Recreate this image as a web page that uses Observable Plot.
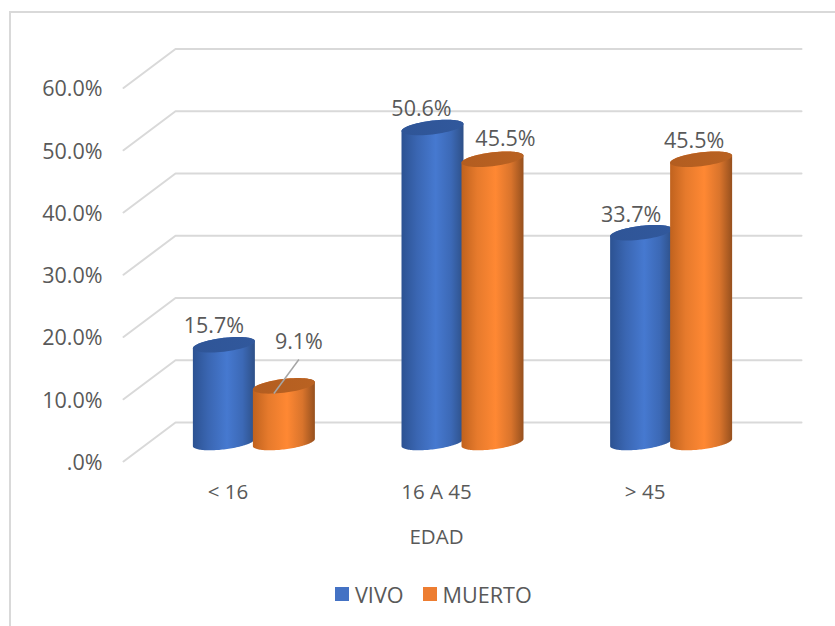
<!DOCTYPE html>
<html lang="es">
<head>
<meta charset="utf-8">
<title>EDAD</title>
<script src="https://cdn.jsdelivr.net/npm/d3@7"></script>
<script src="https://cdn.jsdelivr.net/npm/@observablehq/plot@0.6"></script>
<style>
  html, body { margin: 0; background: #fff; }
  body { width: 835px; height: 626px; position: relative; overflow: hidden; font-family: "Open Sans", sans-serif; }
  /* Chart-area border: only the top and left edges fall inside the page */
  #edge { position: absolute; left: 9px; top: 11px; right: 0; bottom: 0; border-left: 2px solid #d9d9d9; border-top: 2px solid #d9d9d9; }
  #chart { position: absolute; left: 0; top: 0; }
  #legend { position: absolute; left: 335px; top: 575px; height: 38px; display: flex; align-items: center; font-size: 21.6px; color: #595959; }
  #legend i { display: inline-block; width: 14px; height: 14px; margin-right: 6px; }
  #legend span { display: inline-flex; align-items: center; margin-right: 19px; }
</style>
</head>
<body>
<div id="edge"></div>
<div id="chart"></div>
<div id="legend"></div>
<script>
// Share of cases by age group and outcome
const ages = ["< 16", "16 A 45", "> 45"];
const vivo = [15.7, 50.6, 33.7];
const muerto = [9.1, 45.5, 45.5];
const gridValues = [0, 10, 20, 30, 40, 50, 60];

// Pixel size of one x unit (age group) and one y unit (percentage point)
const width = 835, height = 575;
const marginLeft = 123, marginRight = 34, marginTop = 87.5, marginBottom = 114;
const xDomain = [-0.625, 2.625];
const ppx = (width - marginLeft - marginRight) / (xDomain[1] - xDomain[0]);
const ppy = (height - marginTop - marginBottom) / 60;

// Oblique depth of the 3D box
const backX = xDomain[0] + 52 / ppx;
const wallRise = 39 / ppy;
const floorLift = -19;            // cylinders stand this far (px) above the front edge

// Cylinder proportions
const halfGap = 30 / ppx;
const rx = 31 / ppx, ry = 6.9 / ppy, tilt = 3.6 / ppy;
const steps = d3.range(0, 61);

// Point on a slightly tilted ellipse, used for caps and the rounded foot
const rim = (cx, cy, t) => ({
  x: cx + rx * Math.cos(t),
  y: cy + ry * Math.sin(t) + tilt * Math.cos(t)
});

const bars = [
  ...vivo.map((v, i) => ({ series: "VIVO", group: i, value: v, cx: i - halfGap })),
  ...muerto.map((v, i) => ({ series: "MUERTO", group: i, value: v, cx: i + halfGap }))
];

// Side surface: top rim right to left along the back, then foot rim left to right along the front
const bodyPoints = (bar) => [
  ...steps.map((k) => ({ ...rim(bar.cx, bar.value, Math.PI * k / 60), bar })),
  ...steps.map((k) => ({ ...rim(bar.cx, 0, Math.PI + Math.PI * k / 60), bar }))
];
const capPoints = (bar) => steps.map((k) => ({ ...rim(bar.cx, bar.value, 2 * Math.PI * k / 60), bar }));

// Bars in a group overlap, so each is drawn in order with its own surfaces
const cylinder = (bar) => {
  const id = bar.series.toLowerCase();
  const shared = { x: "x", y: "y", dy: floorLift, stroke: "none", curve: "linear-closed" };
  return [
    Plot.line(bodyPoints(bar), { ...shared, fill: `url(#${id}-side)` }),
    Plot.line(capPoints(bar), { ...shared, fill: `url(#${id}-cap)` })
  ];
};

// Horizontal shading of the cylinders
const stops = (stopsList) => stopsList.map(([o, c]) => `<stop offset="${o}" stop-color="${c}"/>`).join("");
const gradients = () => {
  const defs = document.createElementNS("http://www.w3.org/2000/svg", "defs");
  defs.innerHTML = `
    <linearGradient id="vivo-side">${stops([[0, "#2c5292"], [0.25, "#3a66b2"], [0.55, "#4679d0"], [0.8, "#3c69b6"], [1, "#2e5088"]])}</linearGradient>
    <linearGradient id="muerto-side">${stops([[0, "#c0621e"], [0.25, "#e67a2c"], [0.55, "#ff8833"], [0.8, "#d9742c"], [1, "#96501e"]])}</linearGradient>
    <linearGradient id="vivo-cap">${stops([[0, "#2f5597"], [1, "#31589c"]])}</linearGradient>
    <linearGradient id="muerto-cap">${stops([[0, "#b35d20"], [1, "#b96222"]])}</linearGradient>`;
  return defs;
};

// Where each value label sits relative to the top of its cylinder (px)
const labelPlacement = [
  { series: "VIVO", group: 0, dx: -10, dy: -38 },
  { series: "MUERTO", group: 0, dx: 15, dy: -62.5 },
  { series: "VIVO", group: 1, dx: -11, dy: -37 },
  { series: "MUERTO", group: 1, dx: 13, dy: -39 },
  { series: "VIVO", group: 2, dx: -10, dy: -37 },
  { series: "MUERTO", group: 2, dx: -7, dy: -37 }
];
const valueLabels = labelPlacement.map((p) => {
  const bar = bars.find((b) => b.series === p.series && b.group === p.group);
  return Plot.text([bar], {
    x: "cx", y: "value", text: (d) => d.value.toFixed(1) + "%",
    dx: p.dx, dy: p.dy, fontSize: 21.5, fill: "#595959"
  });
});

// Leader line from the short orange cylinder up to its label
const shortBar = bars.find((b) => b.series === "MUERTO" && b.group === 0);

const plot = Plot.plot({
  width, height, marginLeft, marginRight, marginTop, marginBottom,
  style: { fontFamily: '"Open Sans", sans-serif', color: "#595959", background: "transparent", overflow: "visible" },
  x: { domain: xDomain },
  y: { domain: [0, 60] },
  marks: [
    gradients,
    // Each gridline runs along the side wall and then across the back wall
    Plot.line(gridValues.flatMap((v) => [
      { v, x: xDomain[0], y: v },
      { v, x: backX, y: v + wallRise },
      { v, x: xDomain[1], y: v + wallRise }
    ]), { x: "x", y: "y", z: "v", stroke: "#d9d9d9", strokeWidth: 2 }),
    Plot.axisY({
      ticks: gridValues, tickSize: 0, tickPadding: 21, dy: 1.5, label: null, fontSize: 21.5, fill: "#595959",
      tickFormat: (d) => `${d.toFixed(1)}%`.replace(/^0/, "")
    }),
    Plot.axisX({
      ticks: [0, 1, 2], tickSize: 0, tickPadding: 23, dx: -26, fontSize: 20.5, fill: "#595959",
      tickFormat: (i) => ages[i], label: null
    }),
    Plot.text(["EDAD"], {
      frameAnchor: "bottom", dx: -26, dy: 82, fontSize: 20.5, fill: "#595959"
    }),
    ...bars.filter((b) => b.group === 0).flatMap(cylinder),
    ...bars.filter((b) => b.group === 1).flatMap(cylinder),
    ...bars.filter((b) => b.group === 2).flatMap(cylinder),
    Plot.link([shortBar], {
      x1: (d) => d.cx - 10 / ppx, y1: (d) => d.value + 11.4 / ppy,
      x2: (d) => d.cx + 15 / ppx, y2: (d) => d.value + 45.4 / ppy,
      stroke: "#a6a6a6", strokeWidth: 1.5
    }),
    ...valueLabels
  ]
});
document.getElementById("chart").append(plot);

// Series key under the chart
const legendEntries = [["VIVO", "#4472c4"], ["MUERTO", "#ed7d31"]];
document.getElementById("legend").innerHTML = legendEntries
  .map(([name, color]) => `<span><i style="background:${color}"></i>${name}</span>`).join("");
</script>
</body>
</html>
